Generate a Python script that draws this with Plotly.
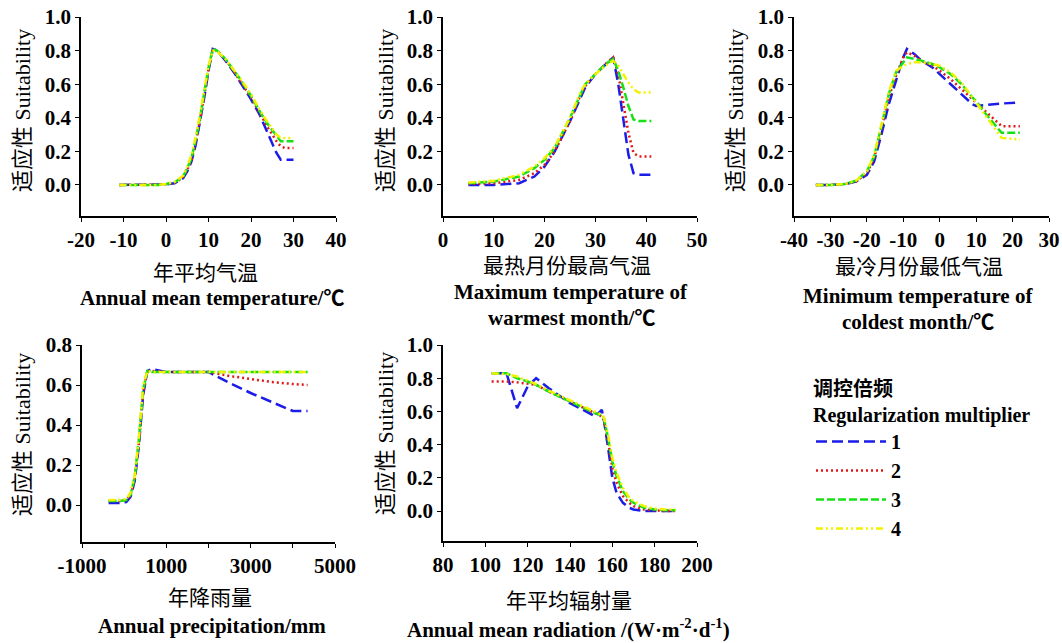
import plotly.graph_objects as go

W, H = 1062, 643

series_names = ["1", "2", "3", "4"]
colors = ["#1c1ce8", "#e01818", "#18e018", "#f2f200"]
dashes = ["11px,5px", "2px,3px", "8px,3px", "7px,3px,2px,3px,2px,3px"]

# Panel 1: annual mean temperature
amt_x = [-11, -8, -5, -2, 0, 2, 4, 5, 6, 7, 8, 9, 10, 11, 12, 14, 16, 18, 20, 22, 24, 26, 27, 28, 30]
amt_1 = [0, 0, 0, 0, 0.003, 0.01, 0.04, 0.08, 0.14, 0.24, 0.37, 0.52, 0.68, 0.81, 0.80, 0.74, 0.67, 0.59, 0.51, 0.42, 0.31, 0.19, 0.15, 0.15, 0.15]
amt_2 = [0, 0, 0, 0, 0.004, 0.012, 0.045, 0.09, 0.15, 0.25, 0.38, 0.53, 0.69, 0.81, 0.80, 0.745, 0.675, 0.60, 0.52, 0.43, 0.34, 0.26, 0.23, 0.22, 0.22]
amt_3 = [0, 0, 0, 0, 0.005, 0.015, 0.05, 0.10, 0.16, 0.27, 0.40, 0.55, 0.70, 0.81, 0.80, 0.75, 0.68, 0.61, 0.53, 0.44, 0.36, 0.29, 0.26, 0.26, 0.26]
amt_4 = [0, 0, 0, 0, 0.006, 0.018, 0.055, 0.11, 0.18, 0.29, 0.42, 0.57, 0.71, 0.80, 0.795, 0.75, 0.685, 0.615, 0.54, 0.45, 0.37, 0.30, 0.28, 0.28, 0.28]

# Panel 2: maximum temperature of warmest month
mtw_x = [5, 10, 15, 18, 20, 22, 25, 27, 28, 30, 32, 33.5, 34.5, 35.5, 36.5, 37.5, 38.5, 41]
mtw_1 = [0.0, 0.0, 0.01, 0.05, 0.11, 0.20, 0.38, 0.52, 0.58, 0.66, 0.72, 0.76, 0.60, 0.38, 0.18, 0.07, 0.06, 0.06]
mtw_2 = [0.005, 0.01, 0.03, 0.07, 0.12, 0.20, 0.38, 0.53, 0.59, 0.66, 0.72, 0.76, 0.66, 0.48, 0.31, 0.19, 0.17, 0.17]
mtw_3 = [0.01, 0.02, 0.05, 0.10, 0.15, 0.22, 0.40, 0.54, 0.60, 0.66, 0.72, 0.75, 0.68, 0.58, 0.47, 0.39, 0.38, 0.38]
mtw_4 = [0.015, 0.025, 0.06, 0.11, 0.16, 0.23, 0.40, 0.55, 0.60, 0.66, 0.71, 0.74, 0.71, 0.66, 0.61, 0.57, 0.55, 0.55]

# Panel 3: minimum temperature of coldest month
mtc_x = [-34, -30, -26, -23, -20, -18, -16, -14, -12, -10, -9, -7, -5, -2, 0, 3, 6, 9, 10, 12, 15, 17, 22]
mtc_1 = [0, 0, 0.005, 0.02, 0.06, 0.14, 0.30, 0.48, 0.62, 0.76, 0.81, 0.78, 0.74, 0.70, 0.66, 0.60, 0.54, 0.48, 0.47, 0.475, 0.48, 0.485, 0.49]
mtc_2 = [0, 0, 0.005, 0.02, 0.07, 0.16, 0.33, 0.52, 0.65, 0.76, 0.79, 0.77, 0.74, 0.71, 0.68, 0.63, 0.57, 0.51, 0.49, 0.45, 0.39, 0.35, 0.35]
mtc_3 = [0, 0, 0.005, 0.025, 0.08, 0.17, 0.35, 0.54, 0.67, 0.73, 0.76, 0.75, 0.74, 0.72, 0.70, 0.66, 0.60, 0.52, 0.50, 0.44, 0.36, 0.31, 0.31]
mtc_4 = [0, 0, 0.005, 0.025, 0.08, 0.18, 0.36, 0.55, 0.68, 0.71, 0.72, 0.73, 0.73, 0.72, 0.71, 0.67, 0.61, 0.52, 0.49, 0.43, 0.34, 0.28, 0.27]

# Panel 4: annual precipitation
prc_x = [-370, -100, 50, 150, 250, 350, 450, 550, 650, 1000, 2000, 2500, 3000, 3500, 4000, 4350]
prc_1 = [0.01, 0.01, 0.015, 0.04, 0.12, 0.30, 0.55, 0.67, 0.68, 0.665, 0.665, 0.61, 0.56, 0.515, 0.47, 0.47]
prc_2 = [0.02, 0.02, 0.025, 0.05, 0.13, 0.31, 0.56, 0.67, 0.67, 0.665, 0.665, 0.645, 0.63, 0.615, 0.605, 0.60]
prc_3 = [0.02, 0.02, 0.025, 0.05, 0.14, 0.33, 0.58, 0.67, 0.665, 0.665, 0.665, 0.665, 0.665, 0.665, 0.665, 0.665]
prc_4 = [0.025, 0.025, 0.03, 0.06, 0.15, 0.34, 0.60, 0.67, 0.665, 0.665, 0.665, 0.665, 0.665, 0.665, 0.665, 0.665]

# Panel 5: annual mean radiation
rad_x = [103, 110, 115, 118, 120, 124, 130, 140, 150, 152, 155, 156, 158, 160, 162, 165, 168, 170, 175, 180, 185, 190]
rad_1 = [0.83, 0.83, 0.62, 0.70, 0.75, 0.80, 0.74, 0.65, 0.58, 0.57, 0.61, 0.55, 0.38, 0.20, 0.11, 0.05, 0.02, 0.01, 0.0, 0.0, 0.0, 0.0]
rad_2 = [0.78, 0.78, 0.775, 0.77, 0.77, 0.76, 0.72, 0.66, 0.60, 0.59, 0.57, 0.55, 0.42, 0.26, 0.17, 0.09, 0.05, 0.03, 0.01, 0.005, 0.0, 0.0]
rad_3 = [0.83, 0.83, 0.80, 0.79, 0.78, 0.76, 0.72, 0.66, 0.60, 0.59, 0.575, 0.56, 0.44, 0.30, 0.21, 0.12, 0.07, 0.05, 0.02, 0.01, 0.005, 0.005]
rad_4 = [0.83, 0.825, 0.81, 0.795, 0.785, 0.765, 0.725, 0.665, 0.605, 0.595, 0.58, 0.565, 0.46, 0.32, 0.23, 0.14, 0.08, 0.06, 0.03, 0.015, 0.01, 0.01]

panels = [
    (amt_x, [amt_1, amt_2, amt_3, amt_4]),
    (mtw_x, [mtw_1, mtw_2, mtw_3, mtw_4]),
    (mtc_x, [mtc_1, mtc_2, mtc_3, mtc_4]),
    (prc_x, [prc_1, prc_2, prc_3, prc_4]),
    (rad_x, [rad_1, rad_2, rad_3, rad_4]),
]

# tick labels
x_tickvals = [
    [-20, -10, 0, 10, 20, 30, 40],
    [0, 10, 20, 30, 40, 50],
    [-40, -30, -20, -10, 0, 10, 20, 30],
    [-1000, 1000, 3000, 5000],
    [80, 100, 120, 140, 160, 180, 200],
]
x_ticktext = [
    ["-20", "-10", "0", "10", "20", "30", "40"],
    ["0", "10", "20", "30", "40", "50"],
    ["-40", "-30", "-20", "-10", "0", "10", "20", "30"],
    ["-1000", "1000", "3000", "5000"],
    ["80", "100", "120", "140", "160", "180", "200"],
]
x_ranges = [[-20, 40], [0, 50], [-40, 30], [-1000, 5000], [80, 200]]
y_ranges = [[-0.185, 1.0], [-0.185, 1.0], [-0.185, 1.0], [-0.185, 0.8], [-0.18, 1.0]]
y_ticks_full = [0, 0.2, 0.4, 0.6, 0.8, 1.0]
y_ticks_short = [0, 0.2, 0.4, 0.6, 0.8]

# pixel boxes of each plot area in the window (left, right, top, bottom)
boxes = [(81, 336, 17, 216), (443, 697, 17, 216), (794, 1049, 17, 216),
         (82, 335, 345, 542), (443, 697, 345, 541)]


def fx(px):
    return px / W


def fy(py):
    return 1 - py / H


SERIF_CJK = "Liberation Serif, Noto Sans CJK SC"
fig = go.Figure()

for p, (xs, ys_list) in enumerate(panels):
    suffix = "" if p == 0 else str(p + 1)
    for s, ys in enumerate(ys_list):
        fig.add_trace(go.Scatter(
            x=xs, y=ys, mode="lines", name=series_names[s],
            line=dict(color=colors[s], width=2.5, dash=dashes[s]),
            xaxis="x" + suffix, yaxis="y" + suffix,
            legendgroup=series_names[s], showlegend=(p == 0),
        ))

tickfont = dict(family="Liberation Serif", size=21, color="black", weight="bold")
for p in range(5):
    l, r, t, b = boxes[p]
    suffix = "" if p == 0 else str(p + 1)
    xa = dict(domain=[fx(l), fx(r)], anchor="y" + suffix, range=x_ranges[p],
              tickvals=x_tickvals[p], ticktext=x_ticktext[p],
              showgrid=False, zeroline=False, automargin=False,
              ticklabeloverflow="allow",
              showline=True, linecolor="black", linewidth=1.5, ticks="outside",
              ticklen=4, tickcolor="black", tickfont=tickfont)
    if p == 3:
        xa["minor"] = dict(dtick=1000, tick0=0, ticks="outside", ticklen=4,
                           tickcolor="black", showgrid=False)
    ya = dict(domain=[fy(b), fy(t)], anchor="x" + suffix, range=y_ranges[p],
              tickvals=y_ticks_short if p == 3 else y_ticks_full, tickformat=".1f",
              showgrid=False, zeroline=False, showline=True, linecolor="black",
              linewidth=1.5, ticks="outside", ticklen=4, tickcolor="black",
              tickfont=tickfont, automargin=False, ticklabeloverflow="allow")
    fig.layout["xaxis" + suffix] = xa
    fig.layout["yaxis" + suffix] = ya

annotations = []


def ann(text, px, py, size=21, angle=0):
    annotations.append(dict(
        text=text, x=fx(px), y=fy(py), xref="paper", yref="paper",
        xanchor="center", yanchor="middle", showarrow=False, textangle=angle,
        font=dict(family=SERIF_CJK, size=size, color="black")))


ytitle = "适应性 Suitability"
for px, py in [(22, 111), (385, 111), (735, 111), (22, 435), (385, 434)]:
    ann(ytitle, px, py, size=22, angle=-90)

ann("年平均气温", 205, 273)
ann("<b>Annual mean temperature/℃</b>", 212, 298)
ann("最热月份最高气温", 567, 266)
ann("<b>Maximum temperature of</b>", 571, 292)
ann("<b>warmest month/℃</b>", 571, 318)
ann("最冷月份最低气温", 919, 267)
ann("<b>Minimum temperature of</b>", 918, 296)
ann("<b>coldest month/℃</b>", 918, 322)
ann("年降雨量", 210, 598)
ann("<b>Annual precipitation/mm</b>", 212, 626)
ann("年平均辐射量", 569, 601)
ann("<b>Annual mean radiation /(W·m<sup>-2</sup>·d<sup>-1</sup>)</b>", 568, 628)

fig.update_layout(
    width=W, height=H, margin=dict(l=0, r=0, t=0, b=0, autoexpand=False),
    paper_bgcolor="white", plot_bgcolor="white",
    annotations=annotations,
    legend=dict(
        x=fx(811), y=fy(370), xanchor="left", yanchor="top",
        title=dict(text="调控倍频<br><b>Regularization multiplier</b>",
                   font=dict(family=SERIF_CJK, size=20, color="black")),
        font=dict(family="Liberation Serif", size=20, color="black", weight="bold"),
        itemwidth=70, tracegroupgap=0, bgcolor="rgba(0,0,0,0)",
    ),
)

fig.write_html(
    "out.html",
    config={"displayModeBar": False},
    post_script="document.body.style.margin='0';"
                "document.documentElement.style.overflow='hidden';",
)
